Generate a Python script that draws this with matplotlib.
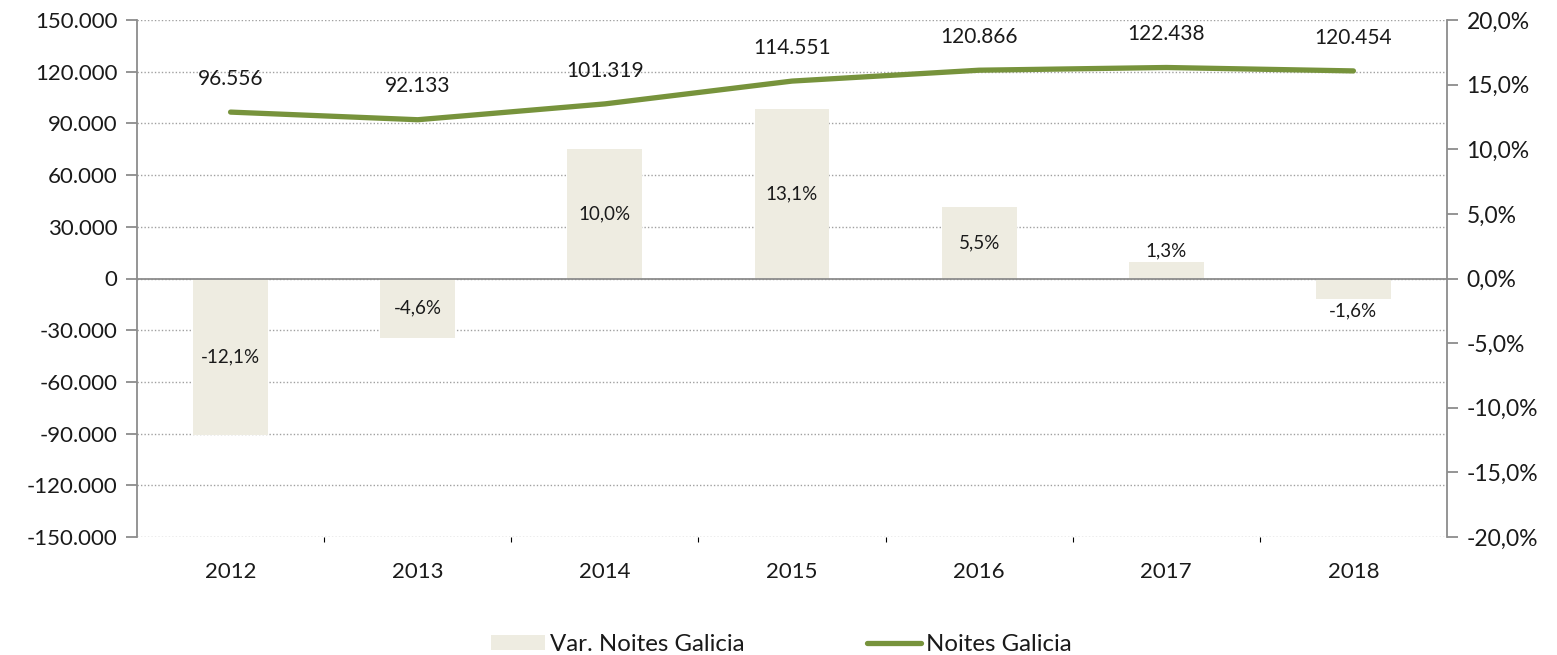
import matplotlib
matplotlib.use("Agg")
import matplotlib.pyplot as plt
import matplotlib.transforms as mtransforms
from matplotlib.ticker import FuncFormatter
from matplotlib.patches import Patch
from matplotlib.lines import Line2D

plt.rcParams['font.family'] = ['Lato', 'DejaVu Sans']

years = ["2012", "2013", "2014", "2015", "2016", "2017", "2018"]
noites = [96556, 92133, 101319, 114551, 120866, 122438, 120454]
var_pct = [-12.1, -4.6, 10.0, 13.1, 5.5, 1.3, -1.6]

line_color = "#77933C"
bar_color = "#EEECE1"
axis_color = "#8C8C8C"
text_color = "#1A1A1A"

fig = plt.figure(figsize=(15.57, 6.55), dpi=100)
pos = [137 / 1557, 118 / 655, (1447 - 137) / 1557, (537 - 20) / 655]

# left axis: nights scale, gridlines
ax = fig.add_axes(pos)
x = list(range(len(years)))
ax.set_xlim(-0.5, len(years) - 0.5)
ax.set_ylim(-150000, 150000)
ax.set_yticks(range(-150000, 150001, 30000))
ax.yaxis.set_major_formatter(FuncFormatter(lambda v, p: f"{int(v):,}".replace(",", ".")))
ax.grid(axis="y", linestyle=(0, (1, 1.5)), color="#A0A0A0", linewidth=1.0)
ax.set_axisbelow(True)
for s in ["top", "right", "bottom"]:
    ax.spines[s].set_visible(False)
ax.spines["left"].set_color(axis_color)
ax.spines["left"].set_linewidth(1.3)
ax.tick_params(axis="y", direction="out", length=8, width=1.3, color=axis_color,
               labelsize=16, labelcolor=text_color, pad=6)
ax.set_xticks([])

# right axis: percentage bars
ax2 = ax.twinx()
ax2.set_ylim(-20, 20)
ax2.set_yticks(range(-20, 21, 5))
ax2.yaxis.set_major_formatter(FuncFormatter(lambda v, p: f"{v:.1f}%".replace(".", ",")))
bars = ax2.bar(x, var_pct, width=0.4, color=bar_color, zorder=2)
for s in ["top", "left"]:
    ax2.spines[s].set_visible(False)
ax2.spines["right"].set_color(axis_color)
ax2.spines["right"].set_linewidth(1.3)
ax2.spines["bottom"].set_position(("data", 0))
ax2.spines["bottom"].set_color(axis_color)
ax2.spines["bottom"].set_linewidth(1.3)
ax2.spines["bottom"].set_zorder(3)
ax2.set_xticks([i + 0.5 for i in range(len(years) - 1)])
ax2.set_xticklabels([])
ax2.tick_params(axis="x", direction="out", length=7, width=1.3, color=axis_color)
ax2.tick_params(axis="y", direction="out", length=8, width=1.3, color=axis_color,
                labelsize=16.5, labelcolor=text_color, pad=6)

for xi, v in zip(x, var_pct):
    lbl = f"{v:.1f}%".replace(".", ",")
    if abs(v) >= 3:
        ax2.text(xi, v / 2, lbl, ha="center", va="center", fontsize=13.5, color=text_color)
    elif v >= 0:
        ax2.annotate(lbl, (xi, v), xytext=(0, 2), textcoords="offset points",
                     ha="center", va="bottom", fontsize=13.5, color=text_color)
    else:
        ax2.annotate(lbl, (xi, v), xytext=(0, -2), textcoords="offset points",
                     ha="center", va="top", fontsize=13.5, color=text_color)

# year labels
trans = mtransforms.blended_transform_factory(ax2.transData, ax2.transAxes)
for xi, y in zip(x, years):
    ax2.text(xi, -0.067, y, transform=trans, ha="center", va="center",
             fontsize=16, color=text_color)

# top layer: the line, on the nights scale
ax3 = fig.add_axes(pos, sharex=ax, sharey=ax)
ax3.patch.set_visible(False)
ax3.axis("off")
ax3.plot(x, noites, color=line_color, linewidth=3.8, solid_capstyle="round")
for xi, v in zip(x, noites):
    ax3.annotate(f"{v:,}".replace(",", "."), (xi, v), xytext=(0, 24),
                 textcoords="offset points", ha="center", va="center",
                 fontsize=15, color=text_color)

handles = [Patch(facecolor=bar_color, edgecolor="none"),
           Line2D([0], [0], color=line_color, linewidth=3.8, solid_capstyle="round")]
fig.legend(handles, ["Var. Noites Galicia", "Noites Galicia"], loc="center",
           bbox_to_anchor=(0.5016, 0.016), ncol=2, frameon=False, fontsize=17.3,
           handlelength=2.25, handleheight=0.62, handletextpad=0.2, columnspacing=5.1,
           labelcolor=text_color, borderpad=0)

fig.savefig("out.png", dpi=100)
